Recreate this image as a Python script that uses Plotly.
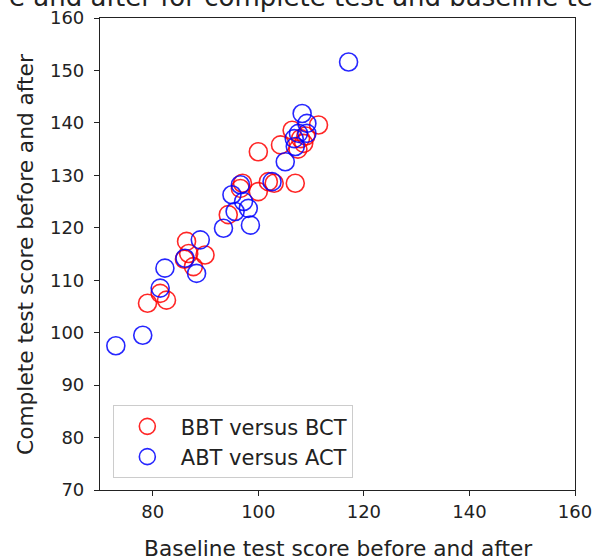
import plotly.graph_objects as go

# BBT versus BCT (red)
bbt_x = [79, 81.4, 82.6, 86.4, 86.8, 89.9, 87.7, 86, 94.3, 97, 100, 101.9, 103, 107,
         100, 104.2, 106.4, 111.4, 108.6, 107.5, 108, 109, 96.6]
bct_y = [105.6, 107.5, 106.2, 117.4, 115.1, 114.8, 112.6, 114, 122.5, 128.5, 126.9, 128.8, 128.5, 128.5,
         134.5, 135.8, 138.6, 139.6, 136.1, 135, 137, 137.5, 127.5]

# ABT versus ACT (blue)
abt_x = [73, 78.1, 81.4, 82.3, 86.1, 88.3, 89, 93.4, 95, 96.6, 97.2, 95.6, 98.1, 98.5,
         102.6, 105.1, 107, 107.6, 109.2, 108.3, 109.2, 117.1, 106.8]
act_y = [97.5, 99.5, 108.5, 112.3, 114.2, 111.3, 117.7, 119.9, 126.3, 128.2, 125, 123.1, 123.7, 120.5,
         128.8, 132.6, 135.5, 138, 139.9, 141.8, 138, 151.6, 137]

series_names = ["BBT versus BCT", "ABT versus ACT"]
y_ticks = [70, 80, 90, 100, 110, 120, 130, 140, 150, 160]
x_ticks = [80, 100, 120, 140, 160]
title_text = "e and after for complete test and baseline te"
x_label = "Baseline test score before and after"
y_label = "Complete test score before and after"

FONT = "DejaVu Sans"
INK = "#222"

fig = go.Figure()
fig.add_trace(go.Scatter(
    x=bbt_x, y=bct_y, mode="markers", name=series_names[0],
    marker=dict(symbol="circle-open", size=18, color="rgba(255,0,0,0.85)", line=dict(width=1.6)),
))
fig.add_trace(go.Scatter(
    x=abt_x, y=act_y, mode="markers", name=series_names[1],
    marker=dict(symbol="circle-open", size=18, color="rgba(0,0,255,0.85)", line=dict(width=1.6)),
))

axis_common = dict(
    showgrid=False, zeroline=False, showline=True, linecolor=INK, linewidth=1.2,
    mirror=True, ticks="outside", ticklen=5, tickcolor=INK, tickwidth=1,
    tickfont=dict(family=FONT, size=18, color=INK), automargin=False,
    ticklabeloverflow="allow",
)

fig.update_layout(
    width=597, height=558,
    margin=dict(l=100, r=22, t=18, b=68),
    paper_bgcolor="white", plot_bgcolor="white",
    font=dict(family=FONT, color=INK),
    showlegend=True,
    legend=dict(
        x=0.027, y=0.025, xanchor="left", yanchor="bottom",
        bgcolor="white", bordercolor="#cccccc", borderwidth=1,
        font=dict(family=FONT, size=21, color=INK),
        tracegroupgap=0, itemwidth=57,
    ),
    xaxis=dict(range=[70, 160], tickvals=x_ticks, **axis_common),
    yaxis=dict(range=[70, 160], tickvals=y_ticks, ticklabelstandoff=6, **axis_common),
    annotations=[
        dict(text=title_text, xref="paper", yref="paper", x=0.424, y=1.0085,
             xanchor="center", yanchor="bottom", showarrow=False,
             font=dict(family=FONT, size=26, color=INK)),
        dict(text=x_label, xref="paper", yref="paper", x=0.5, y=-0.094,
             xanchor="center", yanchor="top", showarrow=False,
             font=dict(family=FONT, size=21.7, color=INK)),
        dict(text=y_label, xref="paper", yref="paper", x=-0.158, y=0.5,
             xanchor="center", yanchor="middle", textangle=-90, showarrow=False,
             font=dict(family=FONT, size=21.7, color=INK)),
    ],
)

fig.write_html("out.html", config={"displayModeBar": False},
               post_script="document.body.style.margin='0';")
